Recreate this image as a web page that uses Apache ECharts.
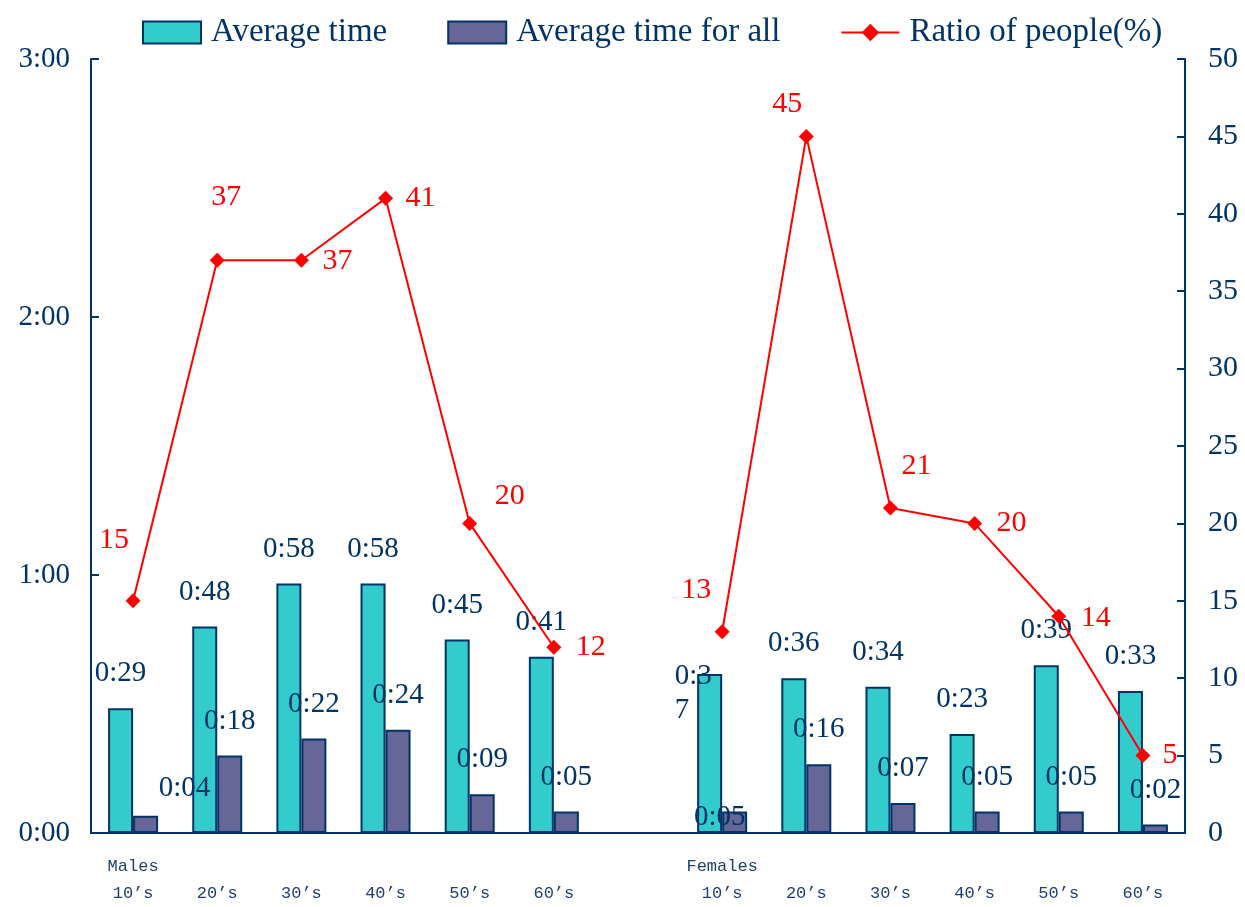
<!DOCTYPE html>
<html>
<head>
<meta charset="utf-8">
<title>Average time and ratio of people</title>
<script src="https://cdn.jsdelivr.net/npm/echarts@6/dist/echarts.min.js"></script>
<style>
  html, body { margin: 0; padding: 0; background: #fff; }
  #chart { width: 1245px; height: 907px; }
</style>
</head>
<body>
<div id="chart"></div>
<script>
// categories (index 6 is the empty slot between males and females)
const categories = ['Males\n10’s', '\n20’s', '\n30’s', '\n40’s', '\n50’s', '\n60’s', '',
  'Females\n10’s', '\n20’s', '\n30’s', '\n40’s', '\n50’s', '\n60’s']
// minutes
const avgTime = [29, 48, 58, 58, 45, 41, null, 37, 36, 34, 23, 39, 33]
const avgTimeAll = [4, 18, 22, 24, 9, 5, null, 5, 16, 7, 5, 5, 2]
// percent
const ratio = [15, 37, 37, 41, 20, 12, null, 13, 45, 21, 20, 14, 5]

const navy = '#003366'
const serif = '"Liberation Serif", "Times New Roman", serif'

function hm(v) {
  const m = Math.round(v)
  return Math.floor(m / 60) + ':' + String(m % 60).padStart(2, '0')
}

// odd label spots copied from the original
const ratioOffsets = [[-19, -61], [9, -63], [36, 1], [35, 0], [40, -27], [37, 0], null,
  [-26, -42], [-19, -32], [26, -42], [37, 0], [37, 2], [27, 0]]

const avgData = avgTime.map(function (v, i) {
  if (i === 7) {
    return {
      value: v,
      label: { formatter: '0:3\n7', align: 'left', lineHeight: 34, offset: [-35, 73] }
    }
  }
  return v
})
const allData = avgTimeAll.map(function (v, i) {
  if (i === 0) return { value: v, label: { offset: [39, 7] } }
  if (i === 7) return { value: v, label: { offset: [-15, 40] } }
  return v
})
const ratioData = ratio.map(function (v, i) {
  if (v === null) return null
  return { value: v, label: { offset: ratioOffsets[i] } }
})

const chart = echarts.init(document.getElementById('chart'))
chart.setOption({
  animation: false,
  textStyle: { fontFamily: serif },
  grid: { left: 91, right: 60, top: 59, bottom: 72 },
  legend: {
    left: 137,
    top: 11,
    itemWidth: 58,
    itemHeight: 22,
    itemGap: 60,
    textStyle: { fontFamily: serif, fontSize: 33, color: navy, padding: [0, 0, 0, 5] },
    data: [
      { name: 'Average time', icon: 'rect' },
      { name: 'Average time for all', icon: 'rect' },
      { name: 'Ratio of people(%)' }
    ]
  },
  xAxis: {
    type: 'category',
    data: categories,
    boundaryGap: true,
    axisLine: { lineStyle: { color: navy, width: 2 } },
    axisTick: { inside: true, length: 7, interval: 0, lineStyle: { color: navy, width: 2 } },
    axisLabel: {
      interval: 0,
      margin: 20,
      fontFamily: '"Liberation Mono", monospace',
      fontSize: 17,
      lineHeight: 27,
      color: '#1f3f6f'
    },
    splitLine: { show: false }
  },
  yAxis: [
    {
      type: 'value',
      min: 0,
      max: 180,
      interval: 60,
      axisLine: { show: true, lineStyle: { color: navy, width: 2 } },
      axisTick: { show: true, inside: true, length: 8, lineStyle: { color: navy, width: 2 } },
      axisLabel: { formatter: hm, fontSize: 29, margin: 21, color: navy, fontFamily: serif },
      splitLine: { show: false }
    },
    {
      type: 'value',
      min: 0,
      max: 50,
      interval: 5,
      axisLine: { show: true, lineStyle: { color: navy, width: 2 } },
      axisTick: { show: true, inside: true, length: 8, lineStyle: { color: navy, width: 2 } },
      axisLabel: { fontSize: 30, margin: 23, color: navy, fontFamily: serif },
      splitLine: { show: false }
    }
  ],
  series: [
    {
      name: 'Average time',
      type: 'bar',
      yAxisIndex: 0,
      barWidth: 25,
      barGap: '0%',
      itemStyle: { color: '#33cccc', borderColor: navy, borderWidth: 2 },
      label: {
        show: true,
        position: 'top',
        distance: 20,
        fontSize: 29,
        fontFamily: serif,
        color: navy,
        formatter: function (p) { return hm(p.value) }
      },
      data: avgData
    },
    {
      name: 'Average time for all',
      type: 'bar',
      yAxisIndex: 0,
      barWidth: 25,
      barGap: '0%',
      itemStyle: { color: '#666699', borderColor: navy, borderWidth: 2 },
      label: {
        show: true,
        position: 'top',
        distance: 20,
        fontSize: 29,
        fontFamily: serif,
        color: navy,
        formatter: function (p) { return hm(p.value) }
      },
      data: allData
    },
    {
      name: 'Ratio of people(%)',
      type: 'line',
      yAxisIndex: 1,
      symbol: 'diamond',
      symbolSize: 15,
      connectNulls: false,
      itemStyle: { color: '#ff0000' },
      lineStyle: { color: '#ff0000', width: 2 },
      label: {
        show: true,
        position: 'inside',
        fontSize: 30,
        fontFamily: serif,
        color: '#ff0000'
      },
      z: 5,
      data: ratioData
    }
  ]
})
</script>
</body>
</html>
